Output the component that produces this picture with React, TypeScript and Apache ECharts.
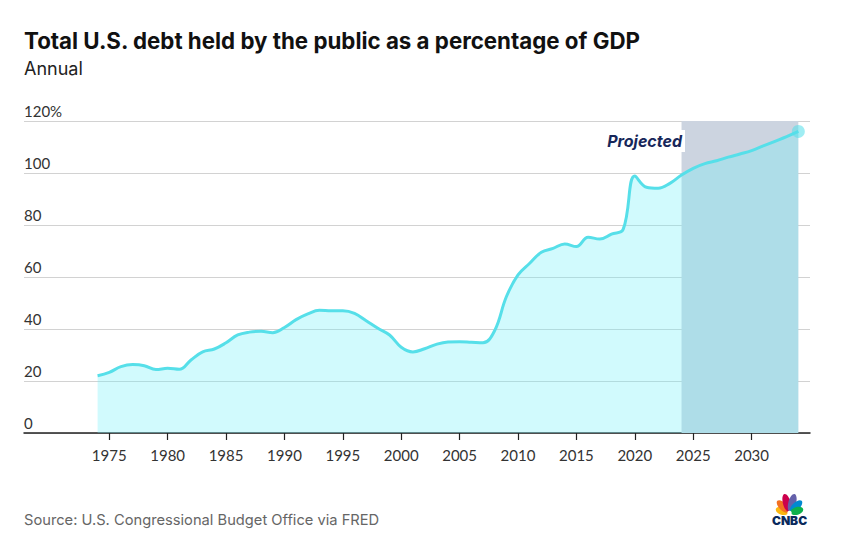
import React, { useEffect, useRef } from "react";
import * as echarts from "echarts";

const years = [
  1974, 1975, 1976, 1977, 1978, 1979, 1980, 1981, 1982, 1983,
  1984, 1985, 1986, 1987, 1988, 1989, 1990, 1991, 1992, 1993,
  1994, 1995, 1996, 1997, 1998, 1999, 2000, 2001, 2002, 2003,
  2004, 2005, 2006, 2007, 2008, 2009, 2010, 2011, 2012, 2013,
  2014, 2015, 2016, 2017, 2018, 2019, 2020, 2021, 2022, 2023,
  2024, 2025, 2026, 2027, 2028, 2029, 2030, 2031, 2032, 2033, 2034,
];

const debtPct = [
  22.0, 23.3, 25.5, 26.3, 25.9, 24.4, 24.9, 24.5, 28.1, 31.2,
  32.3, 34.7, 37.7, 38.8, 39.1, 38.6, 40.6, 43.6, 45.8, 47.2,
  47.0, 47.0, 46.0, 43.2, 40.3, 37.7, 33.0, 31.2, 32.4, 34.1,
  35.0, 35.1, 34.9, 34.7, 39.4, 52.4, 60.8, 65.3, 69.5, 71.0,
  72.7, 71.7, 75.3, 74.6, 76.5, 78.3, 98.8, 94.5, 94.1, 96.0,
  99.2, 101.8, 103.6, 104.7, 106.1, 107.3, 108.6, 110.4, 112.2, 114.0, 116.0,
];

const xTicks = [1975, 1980, 1985, 1990, 1995, 2000, 2005, 2010, 2015, 2020, 2025, 2030];
const yTicks = [0, 20, 40, 60, 80, 100, 120];
const yTickLabels = ["0", "20", "40", "60", "80", "100", "120%"];
const projectionStart = 2024;
const projectionEnd = 2034;

const titleText = "Total U.S. debt held by the public as a percentage of GDP";
const subtitleText = "Annual";
const sourceText = "Source: U.S. Congressional Budget Office via FRED";
const projectedText = "Projected";

const featherColors = ["#fcb711", "#f37021", "#cc004c", "#6460aa", "#0089d0", "#0db14b"];
const featherAngles = [-74, -45, -15, 15, 45, 74];
const featherLengths = [13, 16, 18.5, 18.5, 16, 13];

const FONT = "Lato, 'Open Sans', sans-serif";
const HEAD = "Inter, Lato, sans-serif";

export default function App() {
  const ref = useRef<HTMLDivElement>(null);

  useEffect(() => {
    document.body.style.margin = "0";
    const chart = echarts.init(ref.current as HTMLDivElement, undefined, { renderer: "svg" });

    const px = 789.5;
    const py = 513;
    const feathers = featherColors.map((c, i) => {
      const a = (featherAngles[i] * Math.PI) / 180;
      const len = featherLengths[i];
      const d = len / 2 + 1.2;
      return {
        type: "ellipse",
        x: px + d * Math.sin(a),
        y: py - d * Math.cos(a),
        rotation: -a,
        shape: { cx: 0, cy: 0, rx: 3.9, ry: len / 2 },
        style: { fill: c },
        z: 10,
      };
    });

    const option: any = {
      animation: false,
      textStyle: { fontFamily: FONT },
      grid: { left: 24, right: 37, top: 121, bottom: 115, containLabel: false },
      xAxis: {
        type: "value",
        min: 1967.7,
        max: 2035,
        axisLine: { show: true, onZero: false, lineStyle: { color: "#222", width: 1.5 } },
        axisTick: {
          show: true,
          customValues: xTicks,
          length: 7,
          lineStyle: { color: "#222", width: 1.2 },
        },
        axisLabel: {
          show: true,
          customValues: xTicks,
          formatter: (v: number) => String(v),
          fontSize: 15,
          color: "#333",
          margin: 14,
          fontFamily: FONT,
        },
        splitLine: { show: false },
      },
      yAxis: {
        type: "value",
        min: 0,
        max: 120,
        interval: 20,
        axisLine: { show: false },
        axisTick: { show: false },
        axisLabel: {
          inside: true,
          margin: 0,
          align: "left",
          verticalAlign: "bottom",
          padding: [0, 0, 3, 0],
          fontSize: 15,
          color: "#333",
          fontFamily: FONT,
          formatter: (v: number) => {
            const idx = yTicks.indexOf(v);
            return idx >= 0 ? yTickLabels[idx] : String(v);
          },
        },
        splitLine: { show: true, lineStyle: { color: "#d2d2d2", width: 1 } },
      },
      series: [
        {
          type: "line",
          data: years.map((y, i) => [y, debtPct[i]]),
          smooth: 0.4,
          showSymbol: false,
          symbol: "none",
          lineStyle: { color: "#56dfe9", width: 3 },
          areaStyle: { color: "rgba(112,238,248,0.32)", opacity: 1, origin: "start" },
          z: 2,
          markArea: {
            silent: true,
            itemStyle: { color: "#ccd4e0", opacity: 1 },
            data: [[{ xAxis: projectionStart, yAxis: 120 }, { xAxis: projectionEnd, yAxis: 0 }]],
          },
        },
        {
          type: "scatter",
          data: [[years[years.length - 1], debtPct[debtPct.length - 1]]],
          symbolSize: 13,
          itemStyle: { color: "rgba(86,223,233,0.7)" },
          z: 3,
          silent: true,
        },
      ],
      graphic: [
        {
          type: "text",
          x: 24,
          y: 40,
          style: {
            text: titleText,
            fill: "#111",
            font: `bold 22.3px ${HEAD}`,
            verticalAlign: "middle",
          },
        },
        {
          type: "text",
          x: 24,
          y: 68,
          style: {
            text: subtitleText,
            fill: "#222",
            font: `18px ${HEAD}`,
            verticalAlign: "middle",
          },
        },
        {
          type: "text",
          x: 24,
          y: 520,
          style: {
            text: sourceText,
            fill: "#666",
            font: `14.7px ${HEAD}`,
            verticalAlign: "middle",
          },
        },
        {
          type: "text",
          x: 685,
          y: 141,
          z: 100,
          style: {
            text: projectedText,
            fill: "#17275a",
            font: `italic bold 16px ${HEAD}`,
            align: "right",
            verticalAlign: "middle",
            backgroundColor: "#fff",
            padding: [3, 3, 3, 4],
          },
        },
        ...feathers,
        {
          type: "circle",
          shape: { cx: px, cy: py, r: 2.2 },
          style: { fill: "#fff" },
          z: 11,
        },
        {
          type: "text",
          x: px,
          y: 520.5,
          z: 12,
          style: {
            text: "CNBC",
            fill: "#0a2a5c",
            font: `900 12px ${HEAD}`,
            align: "center",
            verticalAlign: "middle",
          },
        },
      ],
    };

    chart.setOption(option);
    return () => chart.dispose();
  }, []);

  return (
    <div
      ref={ref}
      style={{ position: "absolute", left: 0, top: 0, width: 847, height: 548 }}
    />
  );
}
